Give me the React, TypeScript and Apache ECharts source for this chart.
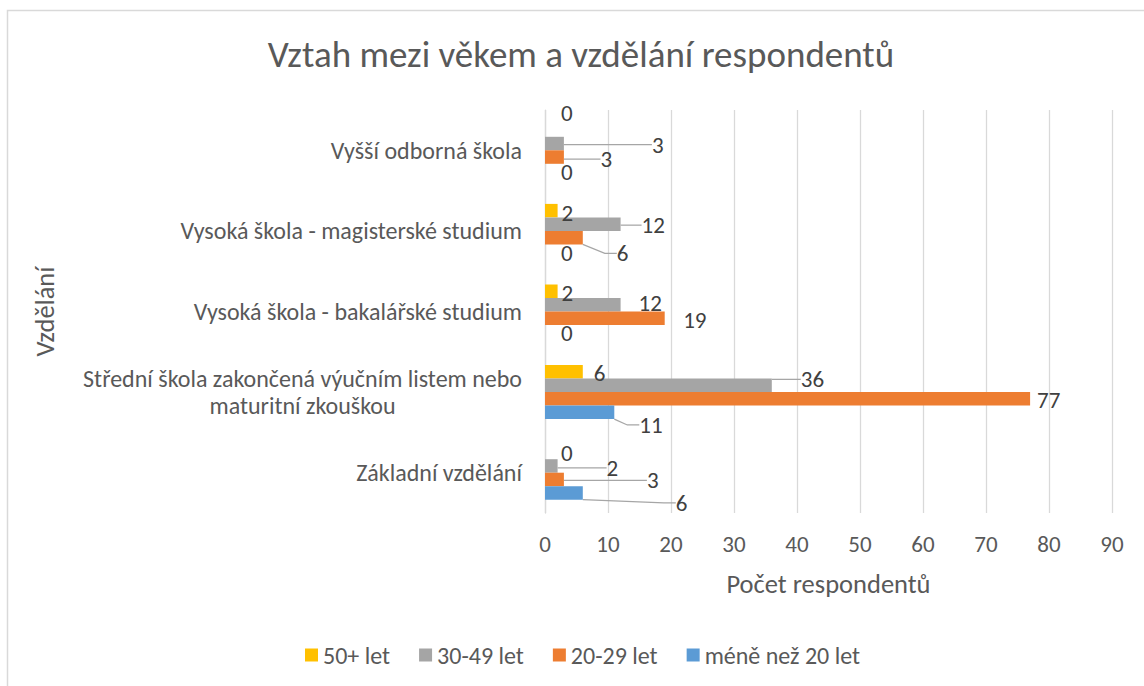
import React, { useEffect, useRef } from "react";
import * as echarts from "echarts";

// ---- data ----
const categories = [
  "Základní vzdělání",
  "Střední škola zakončená výučním listem nebo maturitní zkouškou",
  "Vysoká škola - bakalářské studium",
  "Vysoká škola - magisterské studium",
  "Vyšší odborná škola",
];
const seriesNames = ["50+ let", "30-49 let", "20-29 let", "méně než 20 let"];
const values50plus = [0, 6, 2, 2, 0];
const values30to49 = [2, 36, 12, 12, 3];
const values20to29 = [3, 77, 19, 6, 3];
const valuesUnder20 = [6, 11, 0, 0, 0];
const xMin = 0;
const xMax = 90;
const xInterval = 10;

// ---- styles ----
const FONT = "Carlito, Lato";
const colors = ["#FFC000", "#A5A5A5", "#ED7D31", "#5B9BD5"];
// label offsets [dx, dy, leaderLine] per series, per category (bottom -> top)
const labelOffsets: number[][][] = [
  [[11, 1, 0], [6, 1.5, 0], [-1, 1.5, 0], [-1, 2.5, 0], [11, -17, 0]],
  [[44, 2, 1], [24, -6, 1], [13, -1.5, 0], [16, 1, 1], [83, 1, 1]],
  [[78, 1, 1], [2, 1, 0], [13.5, 2, 0], [29, 15.6, 1], [31.6, 2, 1]],
  [[88, 10, 1], [20, 12.6, 1], [11, 1.5, 0], [11, 2, 0], [11, 1.5, 0]],
];

function wrap(text: string, maxChars: number): string[] {
  const words = text.split(" ");
  const lines: string[] = [];
  let cur = "";
  for (const w of words) {
    const cand = cur ? cur + " " + w : w;
    if (cand.length > maxChars && cur) {
      lines.push(cur);
      cur = w;
    } else cur = cand;
  }
  if (cur) lines.push(cur);
  return lines;
}

export default function App() {
  const ref = useRef<HTMLDivElement>(null);
  useEffect(() => {
    if (!ref.current) return;
    const chart = echarts.init(ref.current, undefined, { renderer: "svg" });
    const allValues = [values50plus, values30to49, values20to29, valuesUnder20];
    const series = allValues.map((vals, si) => ({
      name: seriesNames[si],
      type: "bar",
      data: vals.map((v, i) => ({
        value: v,
        labelLine: { show: !!labelOffsets[si][i][2] },
      })),
      itemStyle: { color: colors[si] },
      barGap: "0%",
      barCategoryGap: "33%",
      label: {
        show: true,
        position: "right",
        distance: 5,
        color: "#404040",
        fontSize: 23,
        fontFamily: FONT,
      },
      labelLine: {
        show: false,
        length2: 12,
        lineStyle: { color: "#A6A6A6", width: 1.25 },
      },
      labelLayout: (params: any) => {
        const o = labelOffsets[si][params.dataIndex];
        return { dx: o[0], dy: o[1] };
      },
    }));

    chart.setOption({
      animation: false,
      backgroundColor: "#ffffff",
      title: {
        text: "Vztah mezi věkem a vzdělání respondentů",
        left: 576,
        top: 31,
        textAlign: "center",
        textStyle: {
          fontFamily: FONT,
          fontSize: 37,
          fontWeight: "normal",
          color: "#595959",
        },
      },
      legend: {
        data: seriesNames,
        left: 300,
        top: 638,
        icon: "rect",
        itemWidth: 13,
        itemHeight: 13,
        itemGap: 29,
        textStyle: { fontFamily: FONT, fontSize: 24, color: "#595959" },
      },
      grid: { left: 545, right: 32, top: 110, bottom: 173, containLabel: false },
      xAxis: {
        type: "value",
        min: xMin,
        max: xMax,
        interval: xInterval,
        name: "Počet respondentů",
        nameLocation: "middle",
        nameGap: 57,
        nameTextStyle: { fontFamily: FONT, fontSize: 26.5, color: "#595959" },
        axisLine: { show: false },
        axisTick: { show: false },
        axisLabel: {
          margin: 19,
          fontFamily: FONT,
          fontSize: 23,
          color: "#595959",
        },
        splitLine: { show: true, lineStyle: { color: "#D9D9D9", width: 1.25 } },
      },
      yAxis: {
        type: "category",
        data: categories,
        name: "Vzdělání",
        nameLocation: "middle",
        nameGap: 487,
        nameRotate: 90,
        nameTextStyle: { fontFamily: FONT, fontSize: 26.5, color: "#595959" },
        axisLine: { show: true, lineStyle: { color: "#D9D9D9", width: 1.25 } },
        axisTick: { show: false },
        axisLabel: {
          margin: 23,
          fontFamily: FONT,
          fontSize: 24,
          color: "#595959",
          formatter: (v: string) => {
            const lines = wrap(v, 44);
            if (lines.length === 1) return v;
            return lines.map((l) => `{c|${l}}`).join("\n");
          },
          rich: {
            c: {
              align: "center",
              fontFamily: FONT,
              fontSize: 24,
              color: "#595959",
              lineHeight: 27,
            },
          },
        },
      },
      graphic: [
        {
          type: "rect",
          shape: { x: 7.5, y: 10.5, width: 1200, height: 720 },
          style: { fill: "none", stroke: "#D9D9D9", lineWidth: 1.5 },
          silent: true,
          z: -1,
        },
      ],
      series,
    });
    return () => chart.dispose();
  }, []);
  return (
    <div
      ref={ref}
      style={{ position: "fixed", left: 0, top: 0, width: 1144, height: 686 }}
    />
  );
}
